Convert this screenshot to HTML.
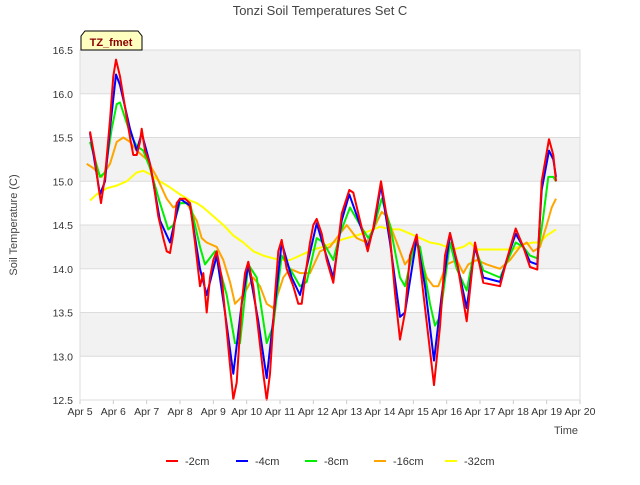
<!DOCTYPE html>
<html><head><meta charset="utf-8"><style>
body{margin:0;background:#fff;font-family:"Liberation Sans",sans-serif}
svg text{font-family:"Liberation Sans",sans-serif}
</style></head><body>
<svg id="c" width="640" height="480" viewBox="0 0 640 480">
<rect width="640" height="480" fill="#fff"/>
<g id="bands"></g><g id="grid"></g><g id="series"></g><g id="axes"></g>
<text x="320" y="15" text-anchor="middle" font-size="13" fill="#444">Tonzi Soil Temperatures Set C</text>
<text transform="translate(17,225) rotate(-90)" text-anchor="middle" font-size="11" fill="#444">Soil Temperature (C)</text>
<text x="578" y="434" text-anchor="end" font-size="11" fill="#444">Time</text>
<g>
<path d="M81,50 L81,36 L85,31 L138,31 L142,36 L142,50 Z" fill="#ffffc0" stroke="#000" stroke-width="1"/>
<text x="111" y="46" text-anchor="middle" font-size="11" font-weight="bold" fill="#8b0000">TZ_fmet</text>
</g>
<g id="legend"></g>
</svg>
<script>
const yTicks=[12.5,13.0,13.5,14.0,14.5,15.0,15.5,16.0,16.5];
const xTickLabels=["Apr 5","Apr 6","Apr 7","Apr 8","Apr 9","Apr 10","Apr 11","Apr 12","Apr 13","Apr 14","Apr 15","Apr 16","Apr 17","Apr 18","Apr 19","Apr 20"];
const seriesNames=["-2cm","-4cm","-8cm","-16cm","-32cm"];
const seriesColors=["#ff0000","#0000ff","#00ee00","#ffa500","#ffff00"];
const s2cm=[[0.3,15.57],[0.45,15.25],[0.55,14.95],[0.63,14.75],[0.75,15.05],[0.9,15.7],[1.0,16.2],[1.08,16.39],[1.2,16.2],[1.35,15.85],[1.5,15.5],[1.6,15.3],[1.7,15.3],[1.8,15.45],[1.85,15.6],[1.95,15.35],[2.1,15.2],[2.2,15.0],[2.35,14.6],[2.5,14.35],[2.6,14.2],[2.7,14.18],[2.8,14.4],[2.9,14.75],[3.0,14.8],[3.15,14.8],[3.3,14.75],[3.45,14.3],[3.6,13.8],[3.7,13.95],[3.8,13.5],[3.9,13.9],[4.0,14.1],[4.1,14.2],[4.25,13.9],[4.4,13.3],[4.5,12.9],[4.6,12.51],[4.7,12.7],[4.85,13.6],[4.95,13.95],[5.05,14.08],[5.2,13.8],[5.35,13.3],[5.5,12.8],[5.6,12.5],[5.7,12.8],[5.85,13.7],[5.95,14.2],[6.05,14.33],[6.2,14.0],[6.4,13.8],[6.55,13.6],[6.65,13.6],[6.75,13.9],[6.9,14.3],[7.0,14.5],[7.1,14.57],[7.25,14.4],[7.4,14.1],[7.6,13.84],[7.85,14.63],[8.08,14.9],[8.2,14.87],[8.45,14.47],[8.63,14.2],[8.8,14.47],[9.03,15.0],[9.3,14.37],[9.45,13.72],[9.6,13.19],[9.75,13.5],[9.9,14.15],[10.1,14.39],[10.3,13.72],[10.62,12.67],[10.8,13.34],[10.95,14.15],[11.1,14.41],[11.3,14.1],[11.6,13.4],[11.85,14.3],[12.1,13.84],[12.6,13.8],[12.8,14.1],[13.07,14.46],[13.3,14.25],[13.5,14.02],[13.72,13.99],[13.85,15.0],[14.07,15.48],[14.2,15.3],[14.28,15.0]];
const s4cm=[[0.3,15.55],[0.6,14.85],[0.75,15.0],[0.9,15.6],[1.08,16.22],[1.2,16.1],[1.5,15.6],[1.7,15.35],[1.85,15.55],[2.1,15.2],[2.4,14.55],[2.7,14.3],[3.0,14.8],[3.3,14.72],[3.6,14.0],[3.8,13.7],[4.1,14.15],[4.35,13.5],[4.6,12.8],[4.85,13.6],[5.05,14.05],[5.35,13.4],[5.6,12.75],[5.85,13.6],[6.05,14.3],[6.35,13.9],[6.6,13.7],[6.85,14.1],[7.1,14.52],[7.35,14.2],[7.6,13.9],[7.85,14.55],[8.08,14.85],[8.45,14.45],[8.63,14.25],[8.8,14.45],[9.03,14.95],[9.3,14.3],[9.6,13.45],[9.75,13.5],[10.1,14.35],[10.35,13.8],[10.62,12.95],[10.85,13.7],[11.1,14.4],[11.35,14.0],[11.6,13.55],[11.85,14.25],[12.1,13.9],[12.6,13.85],[12.8,14.1],[13.07,14.4],[13.3,14.25],[13.5,14.08],[13.72,14.05],[13.85,14.9],[14.07,15.35],[14.2,15.25],[14.28,15.05]];
const s8cm=[[0.3,15.45],[0.6,15.05],[0.75,15.1],[0.95,15.6],[1.1,15.88],[1.2,15.9],[1.5,15.55],[1.7,15.4],[1.9,15.35],[2.1,15.15],[2.4,14.75],[2.65,14.45],[2.8,14.5],[3.0,14.75],[3.3,14.75],[3.6,14.25],[3.75,14.05],[4.05,14.2],[4.4,13.7],[4.65,13.15],[4.8,13.15],[5.05,14.05],[5.3,13.9],[5.6,13.15],[5.8,13.35],[6.05,14.15],[6.3,14.0],[6.6,13.8],[6.8,13.85],[7.1,14.35],[7.3,14.3],[7.6,14.1],[7.8,14.4],[8.1,14.7],[8.4,14.5],[8.65,14.35],[8.8,14.45],[9.05,14.8],[9.3,14.5],[9.6,13.9],[9.75,13.8],[10.05,14.3],[10.2,14.25],[10.5,13.6],[10.65,13.35],[10.8,13.45],[11.1,14.3],[11.3,14.0],[11.6,13.75],[11.85,14.25],[12.1,13.98],[12.6,13.9],[13.07,14.3],[13.3,14.25],[13.5,14.15],[13.72,14.12],[13.9,14.6],[14.05,15.05],[14.2,15.05],[14.28,15.0]];
const s16cm=[[0.2,15.2],[0.4,15.15],[0.65,15.05],[0.9,15.2],[1.1,15.45],[1.3,15.5],[1.5,15.45],[1.7,15.35],[2.0,15.25],[2.3,15.05],[2.6,14.8],[2.8,14.7],[3.0,14.75],[3.2,14.75],[3.5,14.55],[3.65,14.35],[3.8,14.3],[4.1,14.25],[4.3,14.1],[4.5,13.85],[4.65,13.6],[4.9,13.7],[5.2,13.9],[5.4,13.8],[5.6,13.6],[5.8,13.55],[6.1,13.9],[6.3,14.0],[6.6,13.95],[6.9,13.95],[7.2,14.2],[7.5,14.25],[7.8,14.4],[8.0,14.5],[8.3,14.35],[8.6,14.3],[8.8,14.45],[9.05,14.65],[9.2,14.6],[9.5,14.3],[9.75,14.05],[9.95,14.15],[10.1,14.3],[10.4,13.9],[10.6,13.8],[10.75,13.8],[11.0,14.05],[11.3,14.1],[11.5,13.95],[11.65,14.05],[11.9,14.1],[12.2,14.05],[12.6,14.0],[12.9,14.1],[13.2,14.25],[13.4,14.3],[13.6,14.2],[13.8,14.25],[14.0,14.5],[14.15,14.7],[14.28,14.8]];
const s32cm=[[0.3,14.78],[0.5,14.85],[0.8,14.92],[1.1,14.95],[1.4,15.0],[1.7,15.1],[1.9,15.12],[2.1,15.08],[2.4,15.0],[2.7,14.93],[3.0,14.85],[3.3,14.78],[3.5,14.75],[3.7,14.7],[4.0,14.6],[4.3,14.5],[4.6,14.38],[4.9,14.3],[5.2,14.2],[5.5,14.15],[5.8,14.12],[6.0,14.1],[6.3,14.1],[6.6,14.15],[7.0,14.22],[7.3,14.25],[7.6,14.3],[8.0,14.35],[8.3,14.38],[8.6,14.42],[9.0,14.48],[9.3,14.45],[9.6,14.45],[9.9,14.4],[10.2,14.35],[10.5,14.3],[10.8,14.28],[11.2,14.22],[11.5,14.25],[11.7,14.3],[11.9,14.22],[12.2,14.22],[12.6,14.22],[13.0,14.22],[13.3,14.28],[13.6,14.3],[13.8,14.3],[14.0,14.38],[14.28,14.45]];
const allSeries=[s2cm,s4cm,s8cm,s16cm,s32cm];
const NS="http://www.w3.org/2000/svg";
const L=80,R=580,T=50,B=400,ymin=12.5,ymax=16.5,xmin=0,xmax=15;
const xs=d=>L+(d-xmin)/(xmax-xmin)*(R-L);
const ys=v=>B-(v-ymin)/(ymax-ymin)*(B-T);
function mk(tag,at,parent){const e=document.createElementNS(NS,tag);for(const k in at)e.setAttribute(k,at[k]);parent.appendChild(e);return e;}
const bands=document.getElementById('bands'),grid=document.getElementById('grid'),axes=document.getElementById('axes'),ser=document.getElementById('series'),leg=document.getElementById('legend');
mk('rect',{x:L,y:T,width:R-L,height:B-T,fill:'#fff'},bands);
for(let i=0;i<yTicks.length-1;i++){
  if((yTicks.length-2-i)%2===0){const r=mk('rect',{x:L,y:ys(yTicks[i+1]),width:R-L,height:ys(yTicks[i])-ys(yTicks[i+1]),fill:'#f2f2f2'},bands);
  
  }
}
yTicks.forEach(v=>{
  const l=mk('line',{x1:L,x2:R,y1:ys(v),y2:ys(v),stroke:'#dcdcdc','stroke-width':1},grid);
  
  
  const t=mk('text',{x:L-7,y:ys(v)+4,'text-anchor':'end','font-size':10.5,fill:'#333'},axes);t.textContent=v.toFixed(1);
  
  
});
xTickLabels.forEach((s,i)=>{
  const t=mk('text',{x:xs(i),y:415,'text-anchor':'middle','font-size':10.5,fill:'#333'},axes);t.textContent=s;
  
  
  const k=mk('line',{x1:xs(i),x2:xs(i),y1:B,y2:B+4,stroke:'#ccc'},axes);
  
  
});
mk('rect',{x:L,y:T,width:R-L,height:B-T,fill:'none',stroke:'#dcdcdc'},axes);
for(let i=allSeries.length-1;i>=0;i--){
  const p=mk('polyline',{points:allSeries[i].map(d=>xs(d[0]).toFixed(1)+','+ys(d[1]).toFixed(1)).join(' '),fill:'none',stroke:seriesColors[i],'stroke-width':2,'stroke-linejoin':'round'},ser);
  
  
}
const legX=[166,236,305,374,445];
seriesNames.forEach((n,i)=>{
  const g=mk('g',{},leg);
  
  
  mk('line',{x1:legX[i],x2:legX[i]+12,y1:461,y2:461,stroke:seriesColors[i],'stroke-width':2},g);
  const t=mk('text',{x:legX[i]+19,y:465,'font-size':11,fill:'#333'},g);t.textContent=n;
});
</script>
</body></html>
